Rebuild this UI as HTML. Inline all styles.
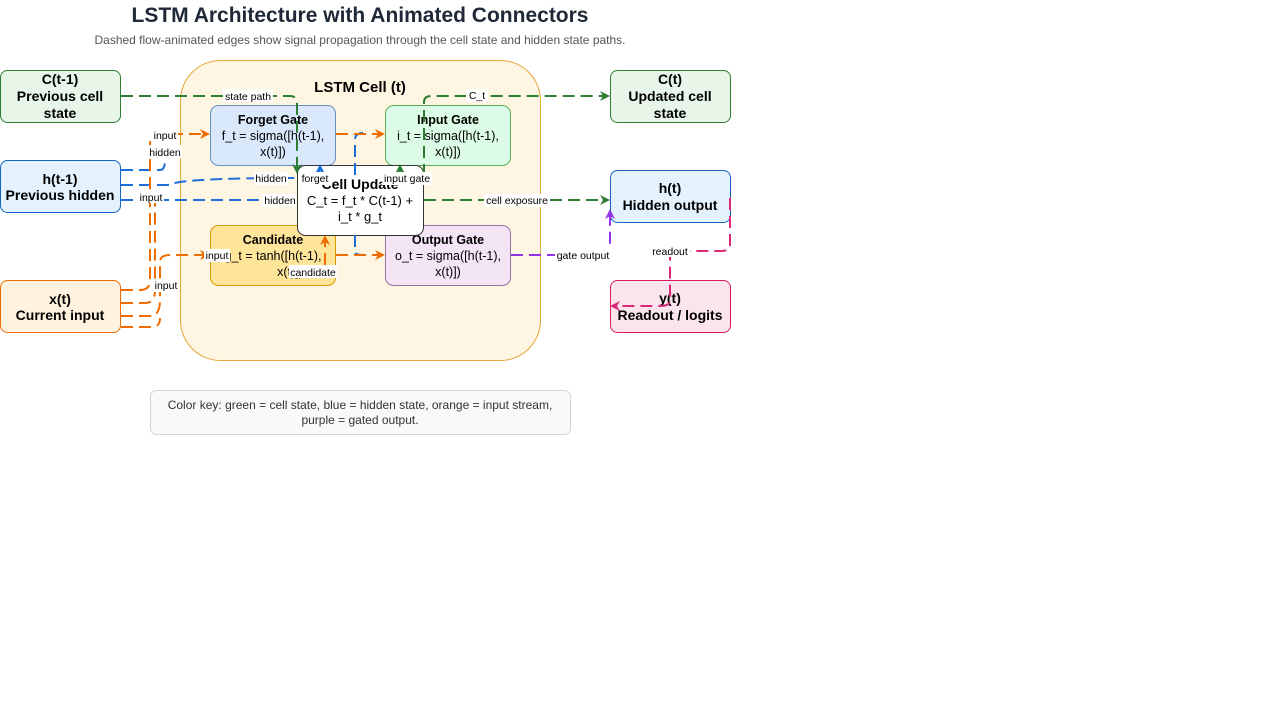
<!DOCTYPE html>
<html><head><meta charset="utf-8"><style>
html,body{margin:0;padding:0;background:#fff;width:1280px;height:720px;overflow:hidden}
svg text{font-family:"Liberation Sans",Arial,sans-serif}
</style></head><body>
<svg width="1280" height="720" viewBox="0 0 1280 720" xmlns="http://www.w3.org/2000/svg">
<defs>
<marker id="ag" markerWidth="10" markerHeight="10" refX="8" refY="5" orient="auto" markerUnits="userSpaceOnUse"><path d="M0,0 L10,5 L0,10 L3,5 z" fill="#2e7d32"/></marker>
<marker id="ao" markerWidth="10" markerHeight="10" refX="8" refY="5" orient="auto" markerUnits="userSpaceOnUse"><path d="M0,0 L10,5 L0,10 L3,5 z" fill="#ef6c00"/></marker>
<marker id="ab" markerWidth="10" markerHeight="10" refX="8" refY="5" orient="auto" markerUnits="userSpaceOnUse"><path d="M0,0 L10,5 L0,10 L3,5 z" fill="#1e6fd9"/></marker>
<marker id="ap" markerWidth="10" markerHeight="10" refX="8" refY="5" orient="auto" markerUnits="userSpaceOnUse"><path d="M0,0 L10,5 L0,10 L3,5 z" fill="#9333ea"/></marker>
<marker id="ak" markerWidth="10" markerHeight="10" refX="8" refY="5" orient="auto" markerUnits="userSpaceOnUse"><path d="M0,0 L10,5 L0,10 L3,5 z" fill="#db2777"/></marker>
</defs>

<text x="360" y="22" text-anchor="middle" font-size="21" font-weight="bold" fill="#1f2937">LSTM Architecture with Animated Connectors</text>
<text x="360" y="44" text-anchor="middle" font-size="12" fill="#555">Dashed flow-animated edges show signal propagation through the cell state and hidden state paths.</text>

<rect x="180.5" y="60.5" width="360" height="300" rx="40" fill="#fff5e3" stroke="#e4a73a"/>
<text x="360" y="92" text-anchor="middle" font-size="15" font-weight="bold">LSTM Cell (t)</text>

<!-- nodes -->
<g font-size="14" font-weight="bold" text-anchor="middle">
<rect x="0.5" y="70.5" width="120" height="52" rx="7" fill="#e8f5e9" stroke="#2e7d32"/>
<text x="60" y="84">C(t-1)</text><text x="60" y="101">Previous cell</text><text x="60" y="118">state</text>
<rect x="0.5" y="160.5" width="120" height="52" rx="7" fill="#e3f2fd" stroke="#1565c0"/>
<text x="60" y="184">h(t-1)</text><text x="60" y="200">Previous hidden</text>
<rect x="0.5" y="280.5" width="120" height="52" rx="7" fill="#fff3e0" stroke="#ef6c00"/>
<text x="60" y="304">x(t)</text><text x="60" y="320">Current input</text>
<rect x="610.5" y="70.5" width="120" height="52" rx="7" fill="#e8f5e9" stroke="#2e7d32"/>
<text x="670" y="84">C(t)</text><text x="670" y="101">Updated cell</text><text x="670" y="118">state</text>
<rect x="610.5" y="170.5" width="120" height="52" rx="7" fill="#e3f2fd" stroke="#1565c0"/>
<text x="670" y="193">h(t)</text><text x="670" y="210">Hidden output</text>
<rect x="610.5" y="280.5" width="120" height="52" rx="7" fill="#fce4ec" stroke="#d81b60"/>
<text x="670" y="303">y(t)</text><text x="670" y="320">Readout / logits</text>
</g>
<g font-size="12.5" text-anchor="middle">
<rect x="210.5" y="105.5" width="125" height="60" rx="8" fill="#dae8fc" stroke="#6c8ebf"/>
<text x="273" y="124" font-weight="bold">Forget Gate</text><text x="273" y="140">f_t = sigma([h(t-1),</text><text x="273" y="156">x(t)])</text>
<rect x="385.5" y="105.5" width="125" height="60" rx="8" fill="#dcfce7" stroke="#5fae5b"/>
<text x="448" y="124" font-weight="bold">Input Gate</text><text x="448" y="140">i_t = sigma([h(t-1),</text><text x="448" y="156">x(t)])</text>
<rect x="210.5" y="225.5" width="125" height="60" rx="8" fill="#ffe599" stroke="#d79b00"/>
<text x="273" y="244" font-weight="bold">Candidate</text><text x="273" y="260">g_t = tanh([h(t-1),</text><text x="290" y="276">x(t)])</text>
<rect x="385.5" y="225.5" width="125" height="60" rx="8" fill="#f3e5f5" stroke="#9673a6"/>
<text x="448" y="244" font-weight="bold">Output Gate</text><text x="448" y="260">o_t = sigma([h(t-1),</text><text x="448" y="276">x(t)])</text>
<rect x="297.5" y="165.5" width="126" height="70" rx="8" fill="#fff" stroke="#333"/>
<text x="360" y="189" font-weight="bold" font-size="14">Cell Update</text><text x="360" y="205" font-size="13">C_t = f_t * C(t-1) +</text><text x="360" y="221" font-size="13">i_t * g_t</text>
</g>

<!-- edges -->
<g fill="none" stroke-width="2" stroke-dasharray="12 6">
<path d="M121,96 H290 Q297,96 297,104 V172" stroke="#2e7d32" marker-end="url(#ag)"/>
<path d="M424,176 V102 Q424,96 432,96 H608" stroke="#2e7d32" marker-end="url(#ag)"/>
<path d="M424,200 H608" stroke="#2e7d32" marker-end="url(#ag)"/>
<path d="M121,170 H160 Q165,170 165,160" stroke="#1e6fd9"/>
<path d="M121,185 H170 Q176,178 300,178 H312 Q320,178 320,166" stroke="#1e6fd9" marker-end="url(#ab)"/>
<path d="M121,200 H300" stroke="#1e6fd9"/>
<path d="M355,175 V140 Q355,133 363,133" stroke="#1e6fd9"/>
<path d="M355,235 V252 Q355,255 365,255" stroke="#1e6fd9"/>
<path d="M121,290 H140 Q150,290 150,280 V145 Q150,134 160,134 H208" stroke="#ef6c00" marker-end="url(#ao)"/>
<path d="M121,303 H145 Q155,303 155,290 V200" stroke="#ef6c00"/>
<path d="M121,316 H150 Q160,316 160,300 V262 Q160,255 170,255 H208" stroke="#ef6c00" marker-end="url(#ao)"/>
<path d="M121,327 H152 Q160,327 160,318" stroke="#ef6c00"/>
<path d="M336,134 H383" stroke="#ef6c00" marker-end="url(#ao)"/>
<path d="M336,255 H383" stroke="#ef6c00" marker-end="url(#ao)"/>
<path d="M325,265 V237" stroke="#ef6c00" marker-end="url(#ao)"/>
<path d="M400,178 V166" stroke="#2e9d4a" marker-end="url(#ag)"/>
<path d="M511,255 H605 Q610,255 610,248 V211" stroke="#9333ea" marker-end="url(#ap)"/>
<path d="M730,198 V245 Q730,251 722,251 H670 V300 Q670,306 660,306 H612" stroke="#db2777" marker-end="url(#ak)"/>
</g>

<!-- edge labels -->
<g font-size="10.5" text-anchor="middle">
<rect x="223" y="89" width="50" height="13" fill="#fff"/><text x="248" y="100">state path</text>
<rect x="466" y="89" width="22" height="13" fill="#fff"/><text x="477" y="99">C_t</text>
<rect x="152" y="128" width="26" height="13" fill="#fff"/><text x="165" y="139">input</text>
<rect x="148" y="145" width="34" height="13" fill="#fff"/><text x="165" y="156">hidden</text>
<rect x="138" y="190" width="26" height="13" fill="#fff"/><text x="151" y="201">input</text>
<rect x="254" y="172" width="34" height="13" fill="#fff"/><text x="271" y="182">hidden</text>
<rect x="299" y="172" width="32" height="13" fill="#fff"/><text x="315" y="182">forget</text>
<rect x="382" y="172" width="50" height="13" fill="#fff"/><text x="407" y="182">input gate</text>
<rect x="262" y="194" width="34" height="13" fill="#fff"/><text x="280" y="204">hidden</text>
<rect x="484" y="194" width="66" height="13" fill="#fff"/><text x="517" y="204">cell exposure</text>
<rect x="204" y="249" width="26" height="13" fill="#fff"/><text x="217" y="259">input</text>
<rect x="289" y="265" width="48" height="13" fill="#fff"/><text x="313" y="276">candidate</text>
<rect x="153" y="279" width="26" height="13" fill="#fff"/><text x="166" y="289">input</text>
<rect x="555" y="249" width="57" height="13" fill="#fff"/><text x="583" y="259">gate output</text>
<rect x="650" y="244" width="40" height="13" fill="#fff"/><text x="670" y="255">readout</text>
</g>

<rect x="150.5" y="390.5" width="420" height="44" rx="6" fill="#f8f9fa" stroke="#d0d4d9"/>
<text x="360" y="409" text-anchor="middle" font-size="12" fill="#333">Color key: green = cell state, blue = hidden state, orange = input stream,</text>
<text x="360" y="424" text-anchor="middle" font-size="12" fill="#333">purple = gated output.</text>
</svg>
</body></html>
